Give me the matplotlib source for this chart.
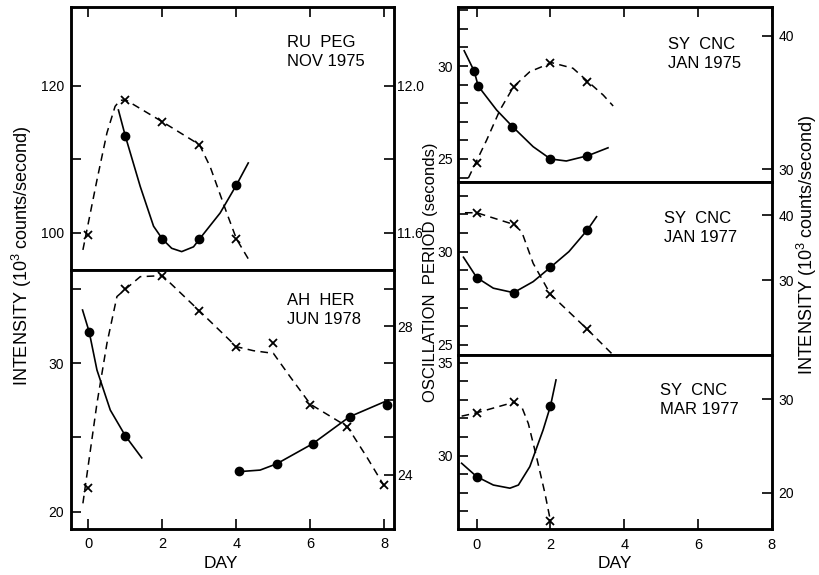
import matplotlib
matplotlib.use('Agg')
import matplotlib.pyplot as plt
from matplotlib.ticker import FixedLocator

plt.rcParams['font.family'] = ['Liberation Sans', 'DejaVu Sans']
plt.rcParams['mathtext.default'] = 'regular'

W, H = 819, 575

# ---- RU PEG, NOV 1975 (left top) ----
rupeg_x_day = [0, 1, 2, 3, 4]
rupeg_x_int = [99.7, 118.1, 115.1, 112.0, 99.2]
rupeg_o_day = [1, 2, 3, 4]
rupeg_o_per = [11.862, 11.583, 11.583, 11.73]
rupeg_dash_day = [-0.15, 0.23, 0.5, 0.72, 0.85, 1, 2, 3, 3.29, 3.74, 4, 4.39]
rupeg_dash_int = [97.7, 107.2, 113.6, 117.2, 118.0, 118.1, 115.1, 112.0, 109.0, 102.7, 99.2, 95.9]
rupeg_line_day = [0.81, 1, 1.4, 1.76, 2, 2.25, 2.52, 2.84, 3, 3.56, 4, 4.32]
rupeg_line_per = [11.934, 11.862, 11.726, 11.618, 11.583, 11.558, 11.549, 11.562, 11.583, 11.654, 11.73, 11.79]

# ---- AH HER, JUN 1978 (left bottom) ----
ahher_x_day = [0, 1, 2, 3, 4, 5, 6, 7, 8]
ahher_x_int = [21.6, 35.0, 35.9, 33.5, 31.1, 31.4, 27.2, 25.7, 21.8]
ahher_o_day = [0.02, 1, 4.07, 5.09, 6.06, 7.06, 8.06]
ahher_o_per = [27.85, 25.04, 24.10, 24.29, 24.83, 25.56, 25.89]
ahher_dash_day = [-0.15, 0.23, 0.5, 0.77, 1, 1.4, 2, 3, 4, 4.46, 5.0, 5.45, 6, 7, 7.52, 8.06]
ahher_dash_int = [20.56, 27.3, 31.35, 34.5, 35.0, 35.84, 35.91, 33.53, 31.12, 30.85, 30.67, 29.1,
                  27.24, 25.73, 23.7, 21.46]
ahher_line1_day = [-0.16, 0.02, 0.23, 0.59, 1, 1.44]
ahher_line1_per = [28.44, 27.85, 26.82, 25.74, 25.04, 24.45]
ahher_line2_day = [4.1, 4.64, 5.09, 6.06, 7.06, 8.11]
ahher_line2_per = [24.08, 24.12, 24.29, 24.83, 25.56, 26.01]

# ---- SY CNC, JAN 1975 (right top) ----
cnc75_x_day = [0, 1, 2, 3]
cnc75_x_int = [30.45, 36.2, 38.0, 36.57]
cnc75_o_day = [-0.07, 0.04, 0.97, 2.0, 3.0]
cnc75_o_per = [29.73, 28.92, 26.74, 25.0, 25.18]
cnc75_dash_day = [-0.23, 0.27, 0.63, 1, 1.44, 2.03, 2.61, 3.02, 3.43, 3.7]
cnc75_dash_int = [29.33, 32.2, 34.45, 36.2, 37.32, 38.0, 37.58, 36.57, 35.57, 34.75]
cnc75_line_day = [-0.34, -0.07, 0.04, 0.54, 0.97, 1.53, 2.0, 2.43, 3.02, 3.56]
cnc75_line_per = [30.82, 29.73, 28.92, 27.63, 26.74, 25.66, 25.0, 24.89, 25.18, 25.6]

# ---- SY CNC, JAN 1977 (right middle) ----
cnc77a_x_day = [0, 1, 2, 3]
cnc77a_x_int = [40.35, 38.56, 27.8, 22.41]
cnc77a_o_day = [0, 1, 2, 3]
cnc77a_o_per = [28.61, 27.8, 29.16, 31.16]
cnc77a_dash_day = [-0.32, 0, 1, 1.22, 1.53, 2, 3, 3.7]
cnc77a_dash_int = [40.35, 40.35, 38.56, 37.43, 32.57, 27.8, 22.41, 18.46]
cnc77a_line_day = [-0.36, 0, 0.45, 1, 1.53, 2, 2.5, 3, 3.25]
cnc77a_line_per = [29.7, 28.61, 28.04, 27.8, 28.39, 29.16, 30.0, 31.16, 31.87]

# ---- SY CNC, MAR 1977 (right bottom) ----
cnc77b_x_day = [0, 1, 2]
cnc77b_x_int = [28.56, 29.68, 16.96]
cnc77b_o_day = [0, 2]
cnc77b_o_per = [28.87, 32.67]
cnc77b_dash_day = [-0.41, 0, 1, 1.22, 1.4, 1.62, 1.85, 2]
cnc77b_dash_int = [28.2, 28.56, 29.68, 29.2, 27.4, 23.85, 19.93, 16.96]
cnc77b_line_day = [-0.41, 0, 0.45, 0.9, 1.13, 1.44, 1.8, 2, 2.15]
cnc77b_line_per = [29.59, 28.87, 28.42, 28.25, 28.42, 29.41, 31.38, 32.67, 34.07]

day_ticks = [0, 2, 4, 6, 8]

fig = plt.figure(figsize=(W / 100, H / 100), dpi=100)


def box(x0, y0, x1, y1):
    return fig.add_axes([x0 / W, 1 - y1 / H, (x1 - x0) / W, (y1 - y0) / H])


def yticks(ax, ticks, labels):
    ax.yaxis.set_major_locator(FixedLocator(ticks))
    ax.set_yticklabels([str(t) if t in labels else '' for t in ticks])


def style(ax, ax2, xlim, pos):
    ax.set_xlim(*xlim)
    ax.set_xticks(day_ticks)
    ax.tick_params(axis='x', direction='in', length=7, width=1.2, labelsize=10.5,
                   top=(pos == 'top'), bottom=(pos == 'bottom'),
                   labelbottom=(pos == 'bottom'), pad=6)
    for a in (ax, ax2):
        a.tick_params(axis='y', direction='in', length=7, width=1.2, labelsize=10, pad=5)
        for s in a.spines.values():
            s.set_linewidth(1.8)


def draw(a_dash, a_line, p):
    dd, di, xd, xi, ld, lp, od, op = p
    a_dash.plot(dd, di, color='k', lw=1.1, ls=(0, (5, 3.5)))
    a_dash.plot(xd, xi, 'x', color='k', ms=6, mew=1.3)
    for d, v in zip(ld, lp):
        a_line.plot(d, v, color='k', lw=1.2)
    a_line.plot(od, op, 'o', color='k', ms=6)


def label(x, y, s):
    fig.text(x / W, 1 - y / H, s, fontsize=12, ha='left', va='top', linespacing=1.3)


# left column
xl = (-0.48, 8.26)
ax = box(70.7, 7, 394, 270)
ax2 = ax.twinx()
draw(ax, ax2, (rupeg_dash_day, rupeg_dash_int, rupeg_x_day, rupeg_x_int,
               [rupeg_line_day], [rupeg_line_per], rupeg_o_day, rupeg_o_per))
ax.set_ylim(94.97, 130.7)
ax2.set_ylim(11.499, 12.214)
yticks(ax, [100, 110, 120], [100, 120])
ax2.yaxis.set_major_locator(FixedLocator([11.6, 11.8, 12.0]))
ax2.set_yticklabels(['11.6', '', '12.0'])
style(ax, ax2, xl, 'top')
ax2.tick_params(axis='y', pad=2)
label(287, 35, 'RU  PEG\nNOV 1975')

ax = box(70.7, 270, 394, 529)
ax2 = ax.twinx()
draw(ax, ax2, (ahher_dash_day, ahher_dash_int, ahher_x_day, ahher_x_int,
               [ahher_line1_day, ahher_line2_day], [ahher_line1_per, ahher_line2_per],
               ahher_o_day, ahher_o_per))
ax.set_ylim(18.83, 36.29)
ax2.set_ylim(22.53, 29.52)
yticks(ax, [20, 25, 30, 35], [20, 30])
yticks(ax2, [24, 25, 26, 27, 28, 29], [24, 28])
style(ax, ax2, xl, 'bottom')
ax2.tick_params(axis='y', pad=2)
label(287, 293, 'AH  HER\nJUN 1978')
fig.text(221 / W, 1 - 563 / H, 'DAY', fontsize=12.5, ha='center', va='center')

# right column
xr = (-0.5, 8.0)
ax = box(458.3, 7.3, 771.7, 182)
ax2 = ax.twinx()
draw(ax2, ax, (cnc75_dash_day, cnc75_dash_int, cnc75_x_day, cnc75_x_int,
               [cnc75_line_day], [cnc75_line_per], cnc75_o_day, cnc75_o_per))
ax.set_ylim(23.76, 33.16)
ax2.set_ylim(29.05, 42.15)
yticks(ax, list(range(24, 34)), [25, 30])
yticks(ax2, [30, 40], [30, 40])
style(ax, ax2, xr, 'top')
ax.tick_params(axis='y', pad=4)
label(668, 37, 'SY  CNC\nJAN 1975')

ax = box(458.3, 182, 771.7, 355)
ax2 = ax.twinx()
draw(ax2, ax, (cnc77a_dash_day, cnc77a_dash_int, cnc77a_x_day, cnc77a_x_int,
               [cnc77a_line_day], [cnc77a_line_per], cnc77a_o_day, cnc77a_o_per))
ax.set_ylim(24.46, 33.73)
ax2.set_ylim(18.46, 45.08)
yticks(ax, list(range(25, 34)), [25, 30])
yticks(ax2, [30, 40], [30, 40])
style(ax, ax2, xr, 'mid')
ax.tick_params(axis='y', pad=4)
label(664, 211, 'SY  CNC\nJAN 1977')

ax = box(458.3, 355, 771.7, 529.3)
ax2 = ax.twinx()
draw(ax2, ax, (cnc77b_dash_day, cnc77b_dash_int, cnc77b_x_day, cnc77b_x_int,
               [cnc77b_line_day], [cnc77b_line_per], cnc77b_o_day, cnc77b_o_per))
ax.set_ylim(26.04, 35.41)
ax2.set_ylim(16.08, 34.75)
yticks(ax, list(range(27, 36)), [30, 35])
yticks(ax2, [20, 30], [20, 30])
style(ax, ax2, xr, 'bottom')
ax.tick_params(axis='y', pad=4)
label(660, 383, 'SY  CNC\nMAR 1977')
fig.text(615 / W, 1 - 563 / H, 'DAY', fontsize=12.5, ha='center', va='center')

# shared axis titles
fig.text(22 / W, 1 - 256 / H, 'INTENSITY (10$^{3}$ counts/second)', rotation=90,
         fontsize=13, ha='center', va='center')
fig.text(430 / W, 1 - 272 / H, 'OSCILLATION  PERIOD (seconds)', rotation=90,
         fontsize=12, ha='center', va='center')
fig.text(807 / W, 1 - 245 / H, 'INTENSITY (10$^{3}$ counts/second)', rotation=90,
         fontsize=13, ha='center', va='center')

fig.savefig('out.png', dpi=100)
